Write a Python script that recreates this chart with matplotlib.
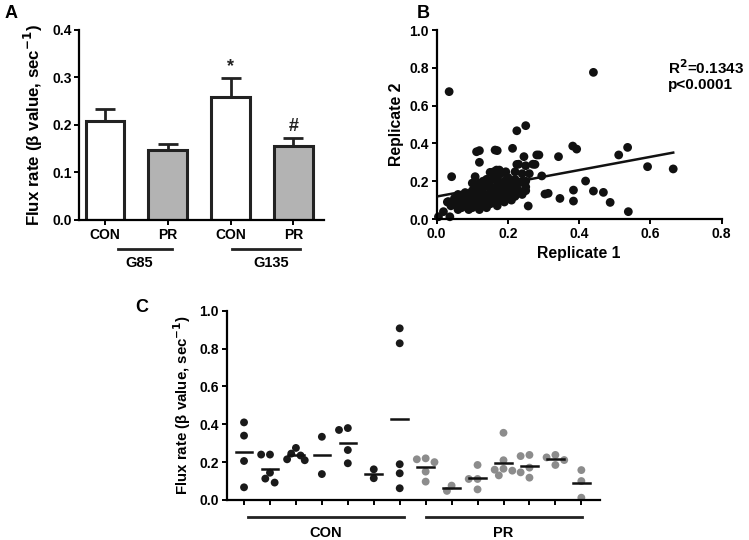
import numpy as np
from matplotlib import pyplot as plt

plt.rcParams["font.family"] = ["Liberation Sans", "DejaVu Sans"]
plt.rcParams["font.weight"] = "bold"
plt.rcParams["axes.linewidth"] = 1.6
plt.rcParams["xtick.major.width"] = 1.4
plt.rcParams["ytick.major.width"] = 1.4
plt.rcParams["xtick.major.size"] = 3.5
plt.rcParams["ytick.major.size"] = 3.5
plt.rcParams["xtick.labelsize"] = 10
plt.rcParams["ytick.labelsize"] = 10

# ---- panel A data
bar_labels = ["CON", "PR", "CON", "PR"]
bar_means = [0.209, 0.147, 0.258, 0.156]
bar_sem = [0.025, 0.014, 0.041, 0.017]
bar_colors = ["white", "#b3b3b3", "white", "#b3b3b3"]
bar_marks = ["", "", "*", "#"]
age_groups = ["G85", "G135"]

# ---- panel B data (replicate 1, replicate 2)
rep1 = [0.035, 0.44, 0.042, 0.225, 0.25, 0.112, 0.12, 0.164, 0.17, 0.213, 0.12,
        0.382, 0.393, 0.342, 0.536, 0.511, 0.592, 0.664, 0.418, 0.44, 0.468, 0.487,
        0.538, 0.384, 0.384, 0.346, 0.304, 0.313, 0.295, 0.257, 0.25, 0.281, 0.287,
        0.245, 0.276, 0.25, 0.225, 0.168, 0.176, 0.194, 0.15, 0.108, 0.005, 0.019,
        0.037, 0.033, 0.047,
        0.05, 0.06, 0.06, 0.07, 0.07, 0.08, 0.08, 0.09, 0.09, 0.09,
        0.10, 0.10, 0.10, 0.11, 0.11, 0.11, 0.12, 0.12, 0.12, 0.12,
        0.13, 0.13, 0.13, 0.14, 0.14, 0.14, 0.14, 0.15, 0.15, 0.15,
        0.15, 0.16, 0.16, 0.16, 0.16, 0.17, 0.17, 0.17, 0.17, 0.18,
        0.18, 0.18, 0.18, 0.19, 0.19, 0.19, 0.20, 0.20, 0.20, 0.21,
        0.21, 0.22, 0.22, 0.22, 0.23, 0.23, 0.24, 0.24, 0.24, 0.25,
        0.03, 0.04, 0.05, 0.06, 0.07, 0.08, 0.10, 0.13, 0.19, 0.21,
        0.26, 0.27, 0.23, 0.12, 0.14, 0.16, 0.20, 0.25, 0.22, 0.18]
rep2 = [0.674, 0.776, 0.224, 0.467, 0.494, 0.356, 0.362, 0.365, 0.362, 0.374, 0.30,
        0.386, 0.37, 0.33, 0.379, 0.339, 0.277, 0.265, 0.201, 0.148, 0.141, 0.088,
        0.039, 0.153, 0.095, 0.109, 0.132, 0.136, 0.228, 0.069, 0.15, 0.339, 0.339,
        0.33, 0.289, 0.282, 0.289, 0.259, 0.259, 0.25, 0.247, 0.224, 0.012, 0.039,
        0.012, 0.092, 0.083,
        0.08, 0.10, 0.05, 0.12, 0.09, 0.07, 0.11, 0.05, 0.13, 0.09,
        0.06, 0.10, 0.15, 0.08, 0.12, 0.17, 0.07, 0.11, 0.14, 0.19,
        0.09, 0.13, 0.16, 0.10, 0.12, 0.18, 0.21, 0.08, 0.14, 0.17,
        0.20, 0.11, 0.15, 0.23, 0.25, 0.07, 0.13, 0.18, 0.21, 0.10,
        0.16, 0.19, 0.24, 0.12, 0.15, 0.20, 0.11, 0.17, 0.22, 0.14,
        0.19, 0.12, 0.16, 0.21, 0.15, 0.19, 0.13, 0.24, 0.20, 0.17,
        0.09, 0.07, 0.11, 0.13, 0.06, 0.14, 0.19, 0.20, 0.09, 0.10,
        0.24, 0.29, 0.29, 0.05, 0.06, 0.09, 0.14, 0.20, 0.25, 0.13]
fit_intercept = 0.119
fit_slope = 0.35
r2_text = "R$^2$=0.1343"
p_text = "p<0.0001"

# ---- panel C data, one list per animal
con_groups = [
    [0.41, 0.34, 0.206, 0.067],
    [0.24, 0.24, 0.144, 0.113, 0.092],
    [0.275, 0.245, 0.235, 0.215, 0.21],
    [0.334, 0.137],
    [0.37, 0.38, 0.264, 0.194],
    [0.115, 0.162],
    [0.907, 0.828, 0.189, 0.141, 0.062],
]
pr_groups = [
    [0.22, 0.215, 0.20, 0.15, 0.097],
    [0.048, 0.076],
    [0.185, 0.111, 0.111, 0.056],
    [0.355, 0.21, 0.165, 0.16, 0.155, 0.13],
    [0.238, 0.232, 0.171, 0.146, 0.118],
    [0.225, 0.238, 0.211, 0.185],
    [0.158, 0.10, 0.012],
]
con_color = "#1a1a1a"
pr_color = "#8c8c8c"

fig = plt.figure(figsize=(7.49, 5.40), dpi=100)


def style_axes(ax):
    ax.spines["top"].set_visible(False)
    ax.spines["right"].set_visible(False)
    ax.tick_params(direction="out", pad=2)


# ================= A
axA = fig.add_axes([0.1059, 0.5926, 0.3267, 0.3519])
xpos = np.arange(len(bar_means))
axA.bar(xpos, bar_means, width=0.62, color=bar_colors, edgecolor="#222222",
        linewidth=2.2, zorder=2)
axA.errorbar(xpos, bar_means, yerr=[np.zeros(4), bar_sem], fmt="none",
             ecolor="#222222", elinewidth=2, capsize=7, capthick=2, zorder=1)
for x, m, s, t in zip(xpos, bar_means, bar_sem, bar_marks):
    if t:
        axA.text(x, m + s + 0.006, t, ha="center", va="bottom", fontsize=13,
                 fontweight="bold", color="#222222")
axA.set_xlim(-0.41, 3.49)
axA.set_ylim(0, 0.4)
axA.set_yticks([0.0, 0.1, 0.2, 0.3, 0.4])
axA.set_yticklabels(["0.0", "0.1", "0.2", "0.3", "0.4"], fontweight="bold")
axA.set_xticks(xpos)
axA.set_xticklabels(bar_labels, fontweight="bold")
axA.set_ylabel("Flux rate (β value, sec$^{\\mathbf{-1}}$)", fontsize=12.2,
               fontweight="bold", labelpad=5)
style_axes(axA)
trA = axA.get_xaxis_transform()
for i, g in enumerate(age_groups):
    x0 = 2 * i + 0.2 - 0.17 * i
    x1 = 2 * i + 1.07 + 0.04 * i
    axA.plot([x0, x1], [-0.154, -0.154], color="#222222", lw=2,
             transform=trA, clip_on=False)
    axA.text(2 * i + 0.55 + 0.1 * i, -0.19, g, transform=trA, ha="center",
             va="top", fontsize=10.5, fontweight="bold")

# ================= B
axB = fig.add_axes([0.5830, 0.5944, 0.3805, 0.3500])
axB.scatter(rep1, rep2, s=40, color="#111111", edgecolors="none", zorder=2,
            clip_on=False)
xl = np.array([min(rep1), max(rep1)])
axB.plot(xl, fit_intercept + fit_slope * xl, color="#111111", lw=1.8, zorder=3)
axB.set_xlim(0, 0.8)
axB.set_ylim(0, 1.0)
axB.set_xticks([0.0, 0.2, 0.4, 0.6, 0.8])
axB.set_xticklabels(["0.0", "0.2", "0.4", "0.6", "0.8"], fontweight="bold")
axB.set_yticks([0.0, 0.2, 0.4, 0.6, 0.8, 1.0])
axB.set_yticklabels(["0.0", "0.2", "0.4", "0.6", "0.8", "1.0"], fontweight="bold")
axB.set_xlabel("Replicate 1", fontsize=11.3, fontweight="bold", labelpad=4)
axB.set_ylabel("Replicate 2", fontsize=11.3, fontweight="bold", labelpad=4)
axB.text(0.81, 0.80, r2_text, transform=axB.transAxes, fontsize=11,
         fontweight="bold", va="center")
axB.text(0.81, 0.71, p_text, transform=axB.transAxes, fontsize=11,
         fontweight="bold", va="center")
style_axes(axB)

# ================= C
axC = fig.add_axes([0.3027, 0.0741, 0.4984, 0.3505])
all_groups = con_groups + pr_groups
colors = [con_color] * len(con_groups) + [pr_color] * len(pr_groups)


def swarm_offsets(vals, px_x=26.0, px_y=189.3, diam=7.0):
    # simple column-scatter layout: push overlapping dots sideways
    placed = []
    offs = [0.0] * len(vals)
    order = np.argsort(vals)[::-1]
    for k in order:
        for cand in [0.0, -0.18, 0.18, -0.34, 0.34]:
            ok = True
            for (ox, oy) in placed:
                d = np.hypot((cand - ox) * px_x, (vals[k] - oy) * px_y)
                if d < diam:
                    ok = False
                    break
            if ok:
                break
        offs[k] = cand
        placed.append((cand, vals[k]))
    return offs


for i, (vals, c) in enumerate(zip(all_groups, colors)):
    offs = swarm_offsets(vals)
    axC.scatter(i + np.array(offs), vals, s=32, color=c, edgecolors="none",
                zorder=2)
    m = np.mean(vals)
    axC.plot([i - 0.32, i + 0.32], [m, m], color="#111111", lw=1.8, zorder=3)
axC.set_xlim(-0.667, 13.72)
axC.set_ylim(0, 1.0)
axC.set_xticks(np.arange(len(all_groups)))
axC.set_xticklabels([])
axC.set_yticks([0.0, 0.2, 0.4, 0.6, 0.8, 1.0])
axC.set_yticklabels(["0.0", "0.2", "0.4", "0.6", "0.8", "1.0"], fontweight="bold")
axC.set_ylabel("Flux rate (β value, sec$^{\\mathbf{-1}}$)", fontsize=10.8,
               fontweight="bold", labelpad=5)
style_axes(axC)
trC = axC.get_xaxis_transform()
axC.plot([0.154, 6.166], [-0.09, -0.09], color="#222222", lw=2,
         transform=trC, clip_on=False)
axC.plot([7.0, 13.03], [-0.09, -0.09], color="#222222", lw=2,
         transform=trC, clip_on=False)
axC.text(3.16, -0.14, "CON", transform=trC, ha="center", va="top",
         fontsize=10.5, fontweight="bold")
axC.text(10.0, -0.14, "PR", transform=trC, ha="center", va="top",
         fontsize=10.5, fontweight="bold")

# panel letters
fig.text(0.006, 0.975, "A", fontsize=13, fontweight="bold", va="center")
fig.text(0.556, 0.975, "B", fontsize=13, fontweight="bold", va="center")
fig.text(0.181, 0.43, "C", fontsize=13, fontweight="bold", va="center")

plt.savefig("out.png", dpi=100)
